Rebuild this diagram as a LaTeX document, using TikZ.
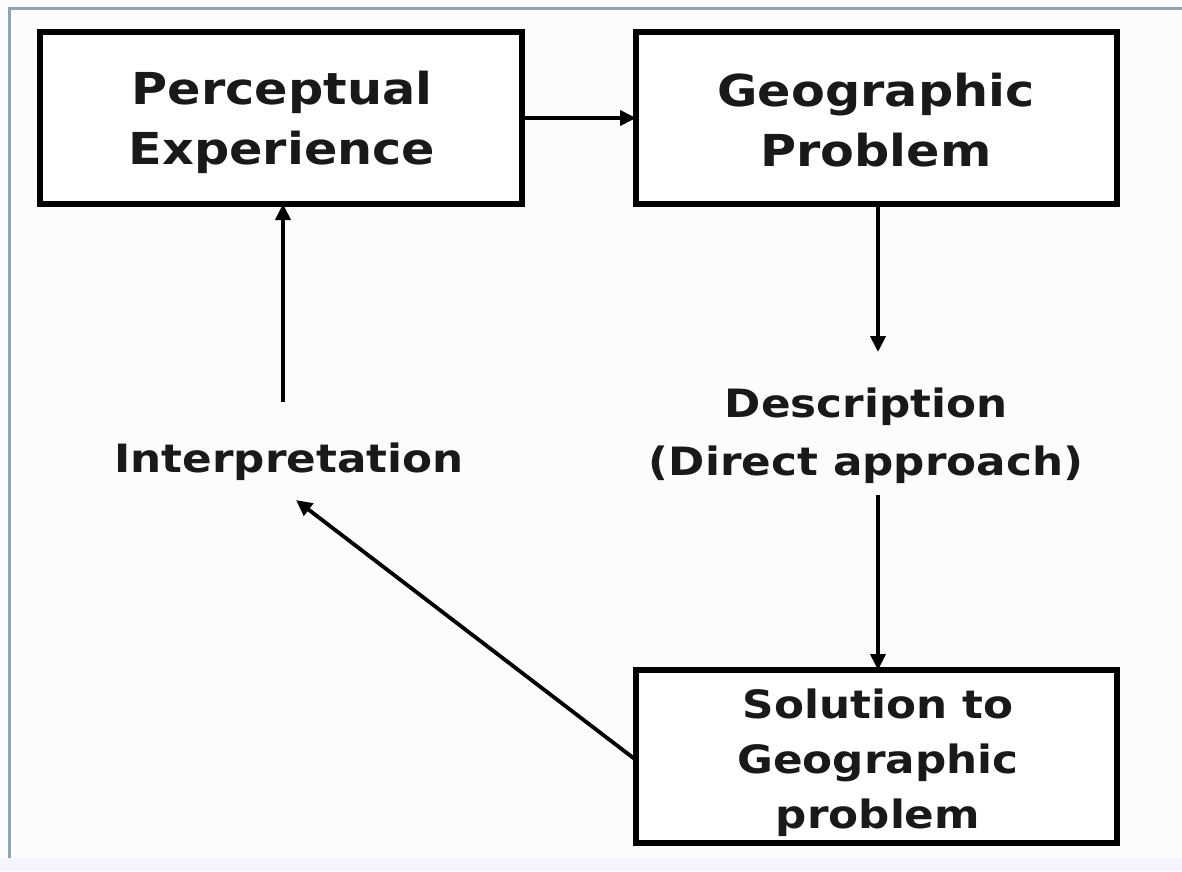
\documentclass[tikz,border=0pt]{standalone}
\usepackage{fontspec}
\setmainfont{DejaVu Sans}[FakeStretch=1.12]
\usetikzlibrary{arrows.meta}
\definecolor{framec}{HTML}{8FA6B8}
\definecolor{bgc}{HTML}{FAFCFE}
\tikzset{
  box/.style={draw=black, line width=5.5pt, fill=white, inner sep=0pt},
  big/.style={font=\bfseries\fontsize{44}{60}\selectfont, align=center, text=black!90},
  mid/.style={font=\bfseries\fontsize{39}{58}\selectfont, align=center, text=black!90},
  arr/.style={draw=black, line width=3.8pt, -{Triangle[length=16pt,width=15pt]}},
}
\begin{document}
\begin{tikzpicture}[x=1pt,y=-1pt]
\useasboundingbox (0,0) rectangle (1182,871);
\fill[bgc] (0,0) rectangle (1182,871);
\draw[framec, line width=3pt] (9,871) -- (9,8) -- (1182,8);
\fill[blue!4] (0,858) rectangle (1182,871);
% boxes
\draw[box] (40,32) rectangle (522,204);
\node[big] (pe) at (282,122) {Perceptual\\Experience};
\coordinate (peS) at (283,204);
\coordinate (peE) at (522,118);
\draw[box] (636,32) rectangle (1117,204);
\node[big] (gp) at (876,120) {Geographic\\Problem};
\coordinate (gpS) at (878,204);
\coordinate (gpW) at (636,118);
\draw[box] (636,670) rectangle (1117,843);
\node[mid, font=\bfseries\fontsize{39}{55}\selectfont] (sol) at (878,763) {Solution to\\Geographic\\problem};
\coordinate (solN) at (878,670);
\coordinate (solW) at (636,760);
% labels
\node[mid] (desc) at (866,436) {Description\\(Direct approach)};
\node[mid] (interp) at (289,462) {Interpretation};
\coordinate (descN) at (878,352);
\coordinate (descS) at (878,495);
\coordinate (intN) at (283,402);
\coordinate (intA) at (296,500);
% connectors
\draw[arr] (peE) -- (gpW);
\draw[arr] (gpS) -- (descN);
\draw[arr] (descS) -- (solN);
\draw[arr] (intN) -- (peS);
\draw[arr] (solW) -- (intA);
\end{tikzpicture}
\end{document}
